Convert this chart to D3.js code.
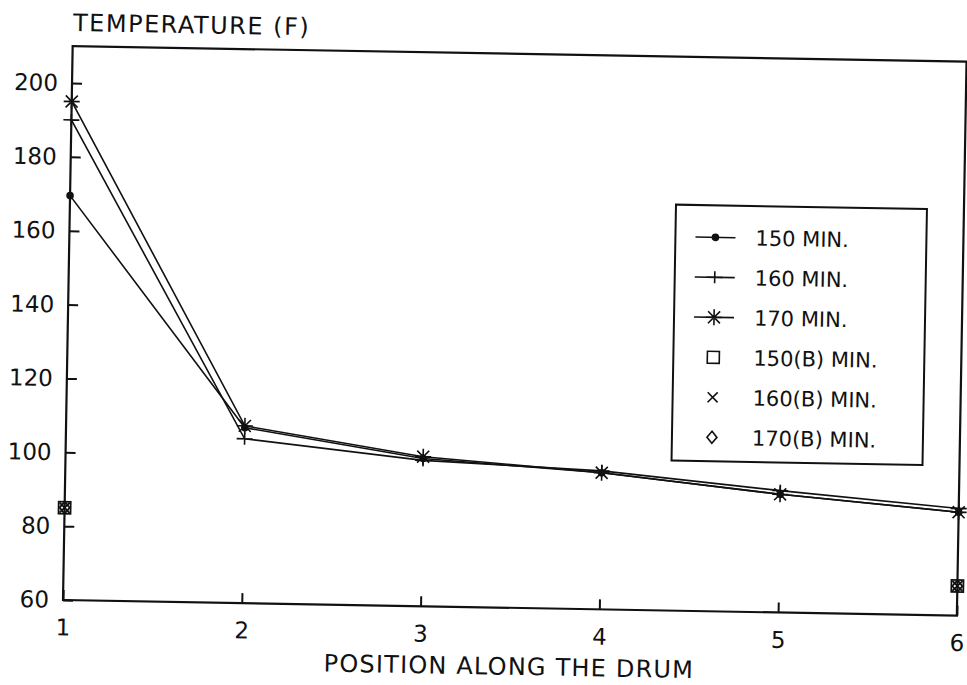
<!DOCTYPE html>
<html>
<head>
<meta charset="utf-8">
<script src="https://cdn.jsdelivr.net/npm/d3@7"></script>
<style>
  body { margin: 0; background: white; }
  text { font-family: "DejaVu Sans", sans-serif; fill: #111; }
</style>
</head>
<body>
<div id="chart"></div>
<script>
// data
const positions = [1, 2, 3, 4, 5, 6];
const min150 = [169.5, 107.5, 100, 97, 92, 88];
const min160 = [190, 104.5, 99.5, 97.5, 93, 89];
const min170 = [195, 108, 100.5, 97, 92, 88];
const boundaryPos = [1, 6];
const min150B = [85, 68];
const min160B = [85, 68];
const min170B = [85, 68];
const yTicks = [60, 80, 100, 120, 140, 160, 180, 200];
const legendLabels = ["150 MIN.", "160 MIN.", "170 MIN.", "150(B) MIN.", "160(B) MIN.", "170(B) MIN."];

const width = 967, height = 685;
const plotLeft = 63, plotRight = 957, plotTop = 46, plotBottom = 600;

const svg = d3.select("#chart")
  .append("svg")
    .attr("width", width)
    .attr("height", height)
    .style("display", "block")

// the scan is tilted about one degree
const g = svg.append("g")
  .attr("transform", `rotate(1, ${plotLeft}, ${plotBottom})`)

const x = d3.scaleLinear().domain([1, 6]).range([plotLeft, plotRight]);
const y = d3.scaleLinear().domain([60, 210]).range([plotBottom, plotTop]);

// marker shapes
const markers = {
  dot: (sel) => sel.append("circle").attr("r", 3).attr("fill", "#111"),
  plus: (sel) => sel.append("path").attr("d", "M-8,0H8M0,-6V6"),
  star: (sel) => sel.append("path").attr("d", "M-8,0H8M0,-8V8M-6,-6L6,6M-6,6L6,-6"),
  square: (sel) => sel.append("rect").attr("x", -6).attr("y", -6).attr("width", 12).attr("height", 12).attr("fill", "none"),
  cross: (sel) => sel.append("path").attr("d", "M-5,-5L5,5M-5,5L5,-5"),
  diamond: (sel) => sel.append("path").attr("d", "M0,-6L5,0L0,6L-5,0Z").attr("fill", "none")
}

const lineSeries = [
  {values: min150, marker: "dot"},
  {values: min160, marker: "plus"},
  {values: min170, marker: "star"}
]
const pointSeries = [
  {values: min150B, marker: "square"},
  {values: min160B, marker: "cross"},
  {values: min170B, marker: "diamond"}
]

// frame
g.append("rect")
  .attr("x", plotLeft).attr("y", plotTop)
  .attr("width", plotRight - plotLeft).attr("height", plotBottom - plotTop)
  .attr("fill", "none").attr("stroke", "#111").attr("stroke-width", 2.2)

const yAxis = g.append("g")
  .attr("transform", `translate(${plotLeft},0)`)
  .call(d3.axisLeft(y).tickValues(yTicks).tickSize(-10).tickPadding(14))
yAxis.select(".domain").remove()
yAxis.selectAll("line").attr("stroke", "#111").attr("stroke-width", 2)
yAxis.selectAll("text").style("font-size", "23px").attr("fill", "#111")

const xAxis = g.append("g")
  .attr("transform", `translate(0,${plotBottom})`)
  .call(d3.axisBottom(x).tickValues(positions).tickSize(-10).tickPadding(19).tickFormat(d3.format("d")))
xAxis.select(".domain").remove()
xAxis.selectAll("line").attr("stroke", "#111").attr("stroke-width", 2)
xAxis.selectAll("text").style("font-size", "23px").attr("fill", "#111")

g.append("text")
  .attr("x", plotLeft).attr("y", 31)
  .style("font-size", "24px").style("letter-spacing", "1.5px")
  .text("TEMPERATURE (F)")

g.append("text")
  .attr("x", (plotLeft + plotRight) / 2).attr("y", 667)
  .attr("text-anchor", "middle")
  .style("font-size", "24px").style("letter-spacing", "1.2px")
  .text("POSITION ALONG THE DRUM")

// lines with markers
const line = d3.line().x((d, i) => x(positions[i])).y(d => y(d))

for (const s of lineSeries) {
  g.append("path")
    .datum(s.values)
    .attr("d", line)
    .attr("fill", "none").attr("stroke", "#111").attr("stroke-width", 1.6)

  s.values.forEach((v, i) => {
    const m = g.append("g")
      .attr("transform", `translate(${x(positions[i])},${y(v)})`)
      .attr("stroke", "#111").attr("stroke-width", 1.6)
    markers[s.marker](m)
  })
}

for (const s of pointSeries) {
  s.values.forEach((v, i) => {
    const m = g.append("g")
      .attr("transform", `translate(${x(boundaryPos[i])},${y(v)})`)
      .attr("stroke", "#111").attr("stroke-width", 1.8)
    markers[s.marker](m)
  })
}

// legend
const legend = g.append("g")
legend.append("rect")
  .attr("x", 669).attr("y", 194)
  .attr("width", 251).attr("height", 256)
  .attr("fill", "white").attr("stroke", "#111").attr("stroke-width", 2)

const allSeries = lineSeries.concat(pointSeries)
allSeries.forEach((s, i) => {
  const cy = 226 + i * 40
  const item = legend.append("g").attr("transform", `translate(709,${cy})`)
  if (i < 3) {
    item.append("line").attr("x1", -20).attr("x2", 20)
      .attr("stroke", "#111").attr("stroke-width", 1.6)
  }
  const m = item.append("g").attr("stroke", "#111").attr("stroke-width", 1.6)
  markers[s.marker](m)
  legend.append("text")
    .attr("x", 749).attr("y", cy + 7.5)
    .style("font-size", "21px")
    .text(legendLabels[i])
})
</script>
</body>
</html>
